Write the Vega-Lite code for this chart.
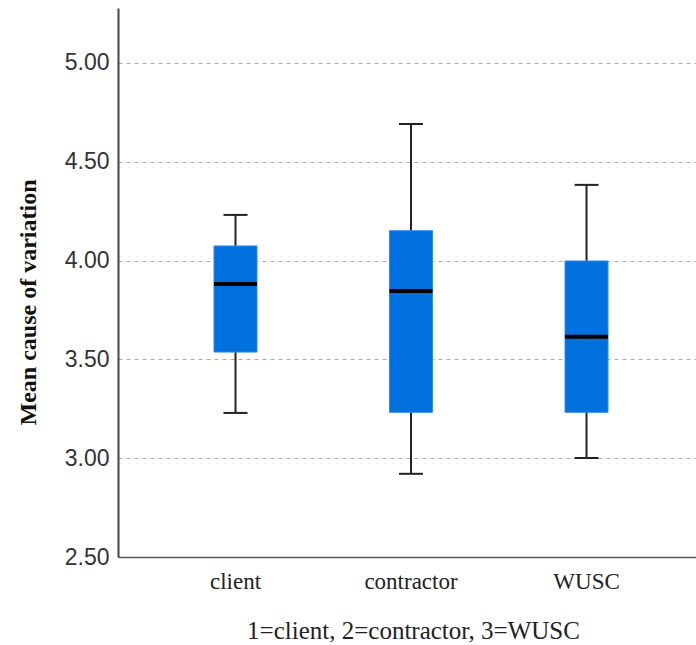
{
  "$schema": "https://vega.github.io/schema/vega-lite/v6.json",
  "autosize": {"type": "none"},
  "padding": {"left": 118, "top": 8, "right": 0, "bottom": 88},
  "width": 578,
  "height": 549,
  "background": "white",
  "config": {"view": {"stroke": null}},
  "data": {
    "values": [
      {"group": "client", "min": 3.229, "q1": 3.537, "median": 3.882, "q3": 4.074, "max": 4.231},
      {"group": "contractor", "min": 2.921, "q1": 3.232, "median": 3.846, "q3": 4.151, "max": 4.691},
      {"group": "WUSC", "min": 3.001, "q1": 3.232, "median": 3.615, "q3": 3.998, "max": 4.383}
    ]
  },
  "encoding": {
    "x": {
      "field": "group",
      "type": "nominal",
      "sort": ["client", "contractor", "WUSC"],
      "scale": {"type": "band", "paddingInner": 0, "paddingOuter": 0.1466, "align": 0.578},
      "axis": {
        "title": "1=client, 2=contractor, 3=WUSC",
        "labelAngle": 0,
        "ticks": false,
        "grid": false,
        "domainColor": "#555555",
        "domainWidth": 1.5,
        "labelFont": "Liberation Serif",
        "labelFontSize": 23,
        "labelColor": "#222222",
        "labelBaseline": "alphabetic",
        "labelPadding": 31,
        "titleFont": "Liberation Serif",
        "titleFontSize": 25,
        "titleFontWeight": "normal",
        "titleColor": "#222222",
        "titleBaseline": "alphabetic",
        "titleAnchor": "start",
        "titleAlign": "center",
        "titleX": 295,
        "titleY": 81
      }
    }
  },
  "layer": [
    {
      "mark": {"type": "rule", "color": "#222222", "strokeWidth": 2},
      "encoding": {
        "y": {
          "field": "min",
          "type": "quantitative",
          "scale": {"domain": [2.5, 5.278], "nice": false, "zero": false},
          "axis": {
            "title": "Mean cause of variation",
            "values": [2.5, 3, 3.5, 4, 4.5, 5],
            "format": ".2f",
            "ticks": false,
            "grid": true,
            "gridDash": [4, 4],
            "gridColor": "#aaaaaa",
            "gridWidth": 1,
            "domainColor": "#444444",
            "domainWidth": 2,
            "labelFont": "Liberation Sans",
            "labelFontSize": 23,
            "labelColor": "#333333",
            "labelPadding": 9,
            "labelBaseline": "middle",
            "titleFont": "Liberation Serif",
            "titleFontSize": 24,
            "titleFontWeight": "bold",
            "titleColor": "#111111",
            "titleAngle": -90,
            "titleBaseline": "middle",
            "titleAlign": "center",
            "titleAnchor": "start",
            "titleX": -90,
            "titleY": 294
          }
        },
        "y2": {"field": "max"}
      }
    },
    {
      "mark": {"type": "bar", "size": 43, "fill": "#0070DF", "stroke": "#2E8BF0", "strokeWidth": 1},
      "encoding": {
        "y": {"field": "q1", "type": "quantitative"},
        "y2": {"field": "q3"}
      }
    },
    {
      "mark": {"type": "tick", "orient": "horizontal", "size": 43, "thickness": 4, "color": "#000000", "opacity": 1},
      "encoding": {"y": {"field": "median", "type": "quantitative"}}
    },
    {
      "mark": {"type": "tick", "orient": "horizontal", "size": 24, "thickness": 2, "color": "#222222", "opacity": 1},
      "encoding": {"y": {"field": "min", "type": "quantitative"}}
    },
    {
      "mark": {"type": "tick", "orient": "horizontal", "size": 24, "thickness": 2, "color": "#222222", "opacity": 1},
      "encoding": {"y": {"field": "max", "type": "quantitative"}}
    }
  ]
}
